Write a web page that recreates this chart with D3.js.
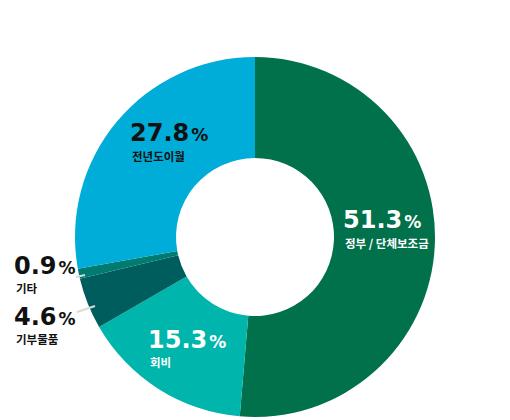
<!DOCTYPE html>
<html><head><meta charset="utf-8">
<script src="https://cdn.jsdelivr.net/npm/d3@7"></script>
<style>body{margin:0;background:#fff}svg{display:block}text{font-family:"Noto Sans CJK KR","Noto Sans",sans-serif;font-weight:700}.num{font-family:"DejaVu Sans",sans-serif}</style>
</head><body><svg width="510" height="420"></svg>
<script>
const categories = ["정부 / 단체보조금","회비","기부물품","기타","전년도이월"];
const values = [51.3, 15.3, 4.6, 0.9, 27.8];
const colors = ["#00714a","#00b5ab","#005d5d","#007b70","#00acd8"];
const labelPos = [[343,228,"#fff",20],[148,348,"#fff",19],[14,325,"#111",19],[14,274,"#111",19],[130,141,"#111",20]];

const svg = d3.select("svg");
const cx = 255, cy = 237, R = 180, r = 79;
const pie = d3.pie().sort(null).value(d => d)(values);
const arc = d3.arc().innerRadius(r).outerRadius(R);
const g = svg.append("g").attr("transform", `translate(${cx},${cy})`);
g.selectAll("path").data(pie).join("path").attr("d", arc).attr("fill", (d,i) => colors[i]);

// leader lines
const lines = [[76,277,85,275],[77,312,95,306]];
svg.selectAll("line.ld").data(lines).join("line").attr("class","ld")
  .attr("x1",d=>d[0]).attr("y1",d=>d[1]).attr("x2",d=>d[2]).attr("y2",d=>d[3])
  .attr("stroke","#d9d9d9").attr("stroke-width",2);

categories.forEach((c,i) => {
  const [x,y,col,off] = labelPos[i];
  const t = svg.append("text").attr("class","num").attr("x",x).attr("y",y).attr("fill",col);
  t.append("tspan").attr("font-size",24).text(values[i].toFixed(1));
  t.append("tspan").attr("font-size",17).attr("dx",2).text("%");
  svg.append("text").attr("x",x+2).attr("y",y+off).attr("fill",col).attr("font-size",11.5).text(c);
});
</script></body></html>
